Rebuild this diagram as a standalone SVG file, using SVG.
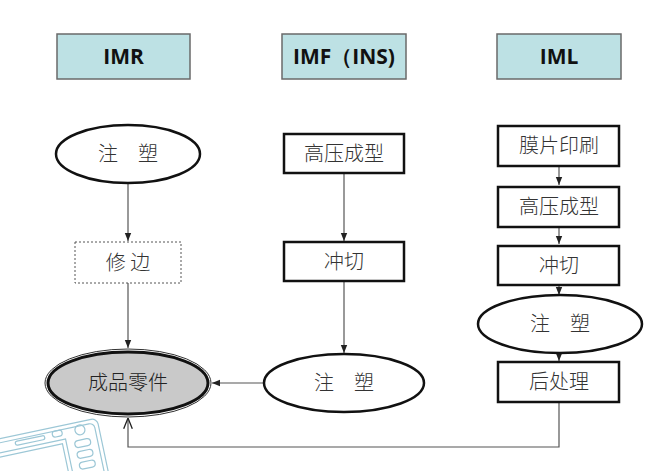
<svg xmlns="http://www.w3.org/2000/svg" width="672" height="471" viewBox="0 0 672 471">
<defs>
<style>
.hdr{fill:#bde1e4;stroke:#6a6a6a;stroke-width:1.5}
.ht{font-family:"Open Sans","Liberation Sans",sans-serif;font-weight:bold;font-size:21px;fill:#111;text-anchor:middle}
.bx{fill:#fff;stroke:#111;stroke-width:2.5}
.dbx{fill:#fff;stroke:#555;stroke-width:1;stroke-dasharray:2 2}
.el{fill:#fff;stroke:#111;stroke-width:2.5}
.t{font-family:"Noto Sans CJK SC",sans-serif;font-weight:300;font-size:20px;fill:#333;text-anchor:middle}
.ln{fill:none;stroke:#555;stroke-width:1.2}
.wm{fill:none;stroke:#9cc7d6;stroke-width:1.2}
</style>
<marker id="ah" viewBox="0 0 10 10" refX="10" refY="5" markerWidth="7" markerHeight="7" orient="auto"><path d="M0,1 L10,5 L0,9 Z" fill="#222"/></marker>
<marker id="oa" viewBox="0 0 10 10" refX="10" refY="5" markerWidth="9" markerHeight="9" orient="auto"><path d="M0,1 L10,5 L0,9" fill="none" stroke="#222" stroke-width="1.2"/></marker>
</defs>
<rect width="672" height="471" fill="#fff"/>
<g id="watermark" transform="translate(-3 7) rotate(-12 60 440)">
<rect class="wm" x="-20" y="420" width="125" height="80" rx="6"/>
<rect class="wm" x="-16" y="424" width="117" height="72" rx="5"/>
<rect class="wm" x="-10" y="434" width="80" height="56"/>
<rect class="wm" x="-6" y="438" width="72" height="48"/>
<rect class="wm" x="20" y="426" width="30" height="4" rx="2"/>
<rect class="wm" x="58" y="424" width="10" height="6" rx="3"/>
<circle class="wm" cx="86" cy="428" r="5"/>
<rect class="wm" x="78" y="438" width="16" height="7" rx="3.5"/>
<rect class="wm" x="78" y="449" width="16" height="7" rx="3.5"/>
<rect class="wm" x="78" y="460" width="16" height="7" rx="3.5"/>
</g>
<g id="h-imr"><rect class="hdr" x="57" y="34" width="133" height="45"/><text class="ht" x="123.5" y="64">IMR</text></g>
<g id="h-imf"><rect class="hdr" x="282" y="34" width="124" height="45"/><text class="ht" x="344" y="64">IMF（INS)</text></g>
<g id="h-iml"><rect class="hdr" x="497" y="34" width="124" height="45"/><text class="ht" x="559" y="64">IML</text></g>

<g id="connectors">
<line class="ln" x1="128" y1="184" x2="128" y2="241" marker-end="url(#ah)"/>
<line class="ln" x1="128" y1="283" x2="128" y2="348" marker-end="url(#ah)"/>
<line class="ln" x1="344" y1="173" x2="344" y2="241" marker-end="url(#ah)"/>
<line class="ln" x1="344" y1="281" x2="344" y2="353" marker-end="url(#ah)"/>
<line class="ln" x1="264" y1="383" x2="212" y2="383" marker-end="url(#ah)"/>
<line class="ln" x1="559" y1="166" x2="559" y2="185" marker-end="url(#ah)"/>
<line class="ln" x1="559" y1="227" x2="559" y2="244" marker-end="url(#ah)"/>
<line class="ln" x1="559" y1="285" x2="559" y2="295" marker-end="url(#ah)"/>
<line class="ln" x1="559" y1="353" x2="559" y2="361" marker-end="url(#ah)"/>
<polyline class="ln" points="559,402 559,447 128,447 128,418" marker-end="url(#oa)"/>
</g>

<g id="imr-zhusu"><ellipse class="el" cx="128" cy="154" rx="72" ry="29"/><text class="t" x="128" y="161">注　塑</text></g>
<g id="imr-xiubian"><rect class="dbx" x="75" y="242" width="106" height="41"/><text class="t" x="128" y="270">修 边</text></g>
<g id="product"><ellipse cx="128" cy="383" rx="83" ry="34" fill="none" stroke="#333" stroke-width="1"/><ellipse cx="128" cy="383" rx="80" ry="31" fill="#c9c9c9" stroke="#111" stroke-width="3"/><text class="t" x="128" y="390" style="fill:#222">成品零件</text></g>

<g id="imf-gaoya"><rect class="bx" x="284" y="134" width="120" height="39"/><text class="t" x="344" y="161">高压成型</text></g>
<g id="imf-chongqie"><rect class="bx" x="284" y="242" width="120" height="39"/><text class="t" x="344" y="269">冲切</text></g>
<g id="imf-zhusu"><ellipse class="el" cx="344" cy="383" rx="80" ry="29"/><text class="t" x="344" y="390">注　塑</text></g>

<g id="iml-mopian"><rect class="bx" x="498" y="126" width="121" height="40"/><text class="t" x="559" y="153">膜片印刷</text></g>
<g id="iml-gaoya"><rect class="bx" x="498" y="187" width="121" height="40"/><text class="t" x="559" y="214">高压成型</text></g>
<g id="iml-chongqie"><rect class="bx" x="498" y="246" width="121" height="39"/><text class="t" x="559" y="273">冲切</text></g>
<g id="iml-zhusu"><ellipse class="el" cx="560" cy="324" rx="82" ry="29"/><text class="t" x="560" y="331">注　塑</text></g>
<g id="iml-houchuli"><rect class="bx" x="498" y="362" width="121" height="40"/><text class="t" x="559" y="389">后处理</text></g>
</svg>
